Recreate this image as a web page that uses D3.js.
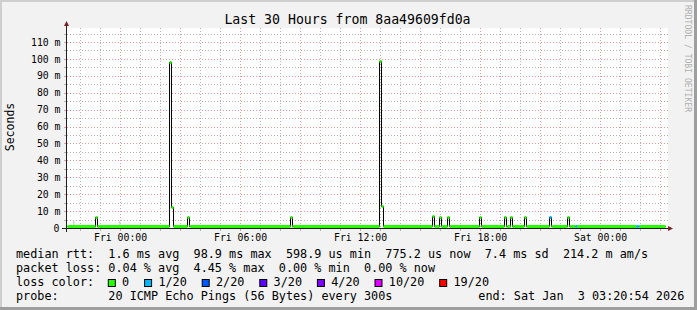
<!DOCTYPE html>
<html>
<head>
<meta charset="utf-8">
<script src="https://cdnjs.cloudflare.com/ajax/libs/d3/7.8.5/d3.min.js"></script>
<title>smokeping</title>
<style>
body { margin: 0; background: #fff; }
svg { display: block; font-family: "DejaVu Sans Mono", monospace; }
</style>
</head>
<body>
<script>

// samples that differ from the flat baseline, one 5 minute step each
var sampleTimes = [
  "2026-01-01 22:46", "2026-01-01 22:51",
  "2026-01-02 02:28", "2026-01-02 02:33",
  "2026-01-02 03:21", "2026-01-02 03:26",
  "2026-01-02 08:30", "2026-01-02 08:35",
  "2026-01-02 12:58", "2026-01-02 13:03",
  "2026-01-02 15:37", "2026-01-02 15:42",
  "2026-01-02 15:58", "2026-01-02 16:03",
  "2026-01-02 16:22", "2026-01-02 16:27",
  "2026-01-02 17:58", "2026-01-02 18:03",
  "2026-01-02 19:12", "2026-01-02 19:17",
  "2026-01-02 19:31", "2026-01-02 19:36",
  "2026-01-02 20:12", "2026-01-02 20:17",
  "2026-01-02 21:27", "2026-01-02 21:32",
  "2026-01-02 22:22", "2026-01-02 22:27",
  "2026-01-02 22:45",
  "2026-01-03 01:48", "2026-01-03 01:53"
];
// median rtt in ms
var sampleValues = [
  6.8, 1.4,
  98.4, 12.7,
  6.8, 1.4,
  6.8, 1.4,
  98.6, 13.0,
  6.9, 1.4,
  6.8, 1.4,
  6.8, 1.4,
  6.6, 1.4,
  6.6, 1.4,
  6.8, 1.4,
  6.6, 1.4,
  6.8, 1.4,
  6.8, 1.4,
  0.9,
  0.9, 0.9
];
// index into lossLabels
var sampleLoss = [
  0, 0, 0, 0, 0, 0, 0, 0, 0, 0, 0, 0, 0, 0, 0, 0,
  0, 0, 0, 0, 0, 0, 0, 0, 1, 0, 0, 0, 1, 1, 1
];
var baselineValue = 0.9;

var smokeTimes = ["2026-01-01 21:39", "2026-01-01 23:57"];
var smokeLow = [0.9, 0.9];
var smokeHigh = [4.3, 4.1];

var yTicks = [0, 10, 20, 30, 40, 50, 60, 70, 80, 90, 100, 110];

var lossLabels = ["0", "1/20", "2/20", "3/20", "4/20", "10/20", "19/20"];
var lossColors = ["#26ff00", "#00b8ff", "#0059ff", "#5e00ff", "#7e00ff", "#dd00ff", "#ff0000"];

var rttStats = ["1.6 ms avg", "98.9 ms max", "598.9 us min", "775.2 us now", "7.4 ms sd", "214.2 m am/s"];
var lossStats = ["0.04 % avg", "4.45 % max", "0.00 % min", "0.00 % now"];
var probeText = "20 ICMP Echo Pings (56 Bytes) every 300s";
var endText = "end: Sat Jan  3 03:20:54 2026";
var title = "Last 30 Hours from 8aa49609fd0a";

var W = 697, H = 310;
var L = 67, R = 667, T = 28, B = 228;
var charW = 7.1;

var parse = d3.timeParse("%Y-%m-%d %H:%M");
var start = new Date(2026, 0, 1, 21, 20, 54),
    end = new Date(2026, 0, 3, 3, 20, 54),
    dataEnd = new Date(2026, 0, 3, 3, 16);
var step = 5 * 60 * 1000;

var x = d3.scaleTime().domain([start, end]).range([L, R]);
var y = d3.scaleLinear().domain([0, 118.3]).range([B, T]);
function px(t) { return Math.round(x(t)); }
// keep runs of spaces in svg text
function keep(s) { return s.replace(/ /g, "\u00a0"); }

var svg = d3.select("body").append("svg").attr("width", W).attr("height", H);

// background + shaded frame
svg.append("rect").attr("width", W).attr("height", H).attr("fill", "#f2f2f2");
svg.append("path").attr("d", "M0,0H" + W + "V2H2V" + H + "H0Z").attr("fill", "#cfcfcf");
svg.append("path").attr("d", "M" + W + ",0V" + H + "H0V" + (H - 3) + "H" + (W - 3) + "V0Z").attr("fill", "#9e9e9e");

svg.append("rect").attr("x", L).attr("y", T).attr("width", R - L + 1).attr("height", B - T)
  .attr("fill", "#fff");

// grid
var hours = d3.timeHour.range(d3.timeHour.ceil(start), end);
var minorV = hours.filter(function(d) { return d.getHours() % 3 != 0; });
var majorV = hours.filter(function(d) { return d.getHours() % 3 == 0; });
var minorH = d3.range(5, 118, 10);
var majorH = yTicks.slice(1);
var gridCol = "#b4b4b4", mgridCol = "#e99a9a";

var grid = svg.append("g").attr("stroke-width", 1);
grid.selectAll("line.mv").data(minorV).enter().append("line").attr("class", "mv")
  .attr("x1", function(d) { return px(d) + 0.5; }).attr("x2", function(d) { return px(d) + 0.5; })
  .attr("y1", T).attr("y2", B).attr("stroke", gridCol).attr("stroke-dasharray", "1,2");
grid.selectAll("line.mh").data(minorH).enter().append("line").attr("class", "mh")
  .attr("y1", function(d) { return Math.round(y(d)) + 0.5; }).attr("y2", function(d) { return Math.round(y(d)) + 0.5; })
  .attr("x1", L).attr("x2", R + 1).attr("stroke", gridCol).attr("stroke-dasharray", "1,2");
grid.selectAll("line.Mv").data(majorV).enter().append("line").attr("class", "Mv")
  .attr("x1", function(d) { return px(d) + 0.5; }).attr("x2", function(d) { return px(d) + 0.5; })
  .attr("y1", T).attr("y2", B).attr("stroke", mgridCol).attr("stroke-dasharray", "1,2");
grid.selectAll("line.Mh").data(majorH).enter().append("line").attr("class", "Mh")
  .attr("y1", function(d) { return Math.round(y(d)) + 0.5; }).attr("y2", function(d) { return Math.round(y(d)) + 0.5; })
  .attr("x1", L).attr("x2", R + 1).attr("stroke", mgridCol).attr("stroke-dasharray", "1,2");

// small ticks on the axis side
var tk = svg.append("g");
tk.selectAll("line.tv").data(hours).enter().append("line").attr("class", "tv")
  .attr("x1", function(d) { return px(d) + 0.5; }).attr("x2", function(d) { return px(d) + 0.5; })
  .attr("y1", B).attr("y2", B + 3)
  .attr("stroke", function(d) { return d.getHours() % 3 == 0 ? mgridCol : gridCol; });
tk.selectAll("line.th").data(d3.range(5, 118, 5)).enter().append("line").attr("class", "th")
  .attr("y1", function(d) { return Math.round(y(d)) + 0.5; }).attr("y2", function(d) { return Math.round(y(d)) + 0.5; })
  .attr("x1", L - 3).attr("x2", L)
  .attr("stroke", function(d) { return d % 10 == 0 ? mgridCol : gridCol; });

// smoke
svg.selectAll("rect.smoke").data(smokeTimes).enter().append("rect").attr("class", "smoke")
  .attr("x", function(d) { return px(parse(d)); })
  .attr("width", 1.5)
  .attr("y", function(d, i) { return y(smokeHigh[i]); })
  .attr("height", function(d, i) { return y(smokeLow[i]) - y(smokeHigh[i]); })
  .attr("fill", "#d4d4d4");

// build step segments
var samples = sampleTimes.map(function(t, i) {
  var t0 = parse(t);
  return { t0: t0, t1: new Date(+t0 + step), v: sampleValues[i], loss: sampleLoss[i] };
});
var segs = [], cur = start;
samples.forEach(function(s) {
  if (s.t0 > cur) segs.push({ t0: cur, t1: s.t0, v: baselineValue, loss: 0 });
  segs.push(s);
  cur = s.t1;
});
if (cur < dataEnd) segs.push({ t0: cur, t1: dataEnd, v: baselineValue, loss: 0 });

var pts = [];
segs.forEach(function(s) { pts.push([s.t0, s.v]); pts.push([s.t1, s.v]); });

var line = d3.line()
  .x(function(d) { return px(d[0]) + 0.5; })
  .y(function(d) { return Math.round(y(d[1])) + 0.5; });

svg.append("path").datum(pts).attr("d", line)
  .attr("fill", "none").attr("stroke", "#000").attr("stroke-width", 1);

svg.selectAll("line.med").data(segs).enter().append("line").attr("class", "med")
  .attr("x1", function(d) { return px(d.t0) + 0.5; })
  .attr("x2", function(d) { return px(d.t1) + 0.5; })
  .attr("y1", function(d) { return Math.round(y(d.v)) + 0.5; })
  .attr("y2", function(d) { return Math.round(y(d.v)) + 0.5; })
  .attr("stroke", function(d) { return lossColors[d.loss]; })
  .attr("stroke-width", 3);

// axes lines + arrows
svg.append("line").attr("x1", L - 0.5).attr("x2", L - 0.5).attr("y1", B + 4).attr("y2", T - 4)
  .attr("stroke", "#1f1f1f");
svg.append("line").attr("x1", L - 5).attr("x2", R + 3).attr("y1", B + 0.5).attr("y2", B + 0.5)
  .attr("stroke", "#1f1f1f");
svg.append("path").attr("d", "M" + (L - 3) + "," + (T - 2) + "L" + (L + 2) + "," + (T - 2) + "L" + (L - 0.5) + "," + (T - 7) + "Z")
  .attr("fill", "#801f1f");
svg.append("path").attr("d", "M" + (R + 1) + "," + (B - 2) + "L" + (R + 1) + "," + (B + 3) + "L" + (R + 6) + "," + (B + 0.5) + "Z")
  .attr("fill", "#801f1f");

// axis labels
var xLabels = hours.filter(function(d) { return d.getHours() % 6 == 0; });
var xAxis = svg.append("g").attr("transform", "translate(0," + B + ")")
  .call(d3.axisBottom(x).tickValues(xLabels).tickFormat(d3.timeFormat("%a %H:%M")).tickSize(0).tickPadding(6));
xAxis.select(".domain").remove();
xAxis.selectAll("text").attr("font-family", "DejaVu Sans Mono").attr("font-size", "9.8px").attr("fill", "#000");

var yAxis = svg.append("g").attr("transform", "translate(" + L + ",0)")
  .call(d3.axisLeft(y).tickValues(yTicks).tickFormat(function(d) { return d == 0 ? "0" : d + " m"; })
    .tickSize(0).tickPadding(6.5));
yAxis.select(".domain").remove();
yAxis.selectAll("text").attr("font-family", "DejaVu Sans Mono").attr("font-size", "9.8px").attr("fill", "#000")
  .attr("dx", function(d) { return d == 0 ? -1.2 : 0; });

svg.append("text").attr("transform", "translate(14,127) rotate(-90)")
  .attr("text-anchor", "middle").attr("font-size", "11.5px").text("Seconds");

svg.append("text").attr("x", 347.5).attr("y", 23.5).attr("text-anchor", "middle")
  .attr("font-size", "13.2px").text(title);

svg.append("text").attr("transform", "translate(685,5) rotate(90)")
  .attr("font-size", "8.5px").attr("fill", "#b0b0b0")
  .attr("textLength", 107).attr("lengthAdjust", "spacingAndGlyphs")
  .text("RRDTOOL / TOBI OETIKER");

// legend
var leg = svg.append("g").attr("font-size", "11.8px");
var lx = 16, ly = 258.3, lh = 14;
leg.append("text").attr("x", lx).attr("y", ly).text(keep("median rtt:  " + rttStats.join("  ")));
leg.append("text").attr("x", lx).attr("y", ly + lh).text(keep("packet loss: " + lossStats.join("  ")));
leg.append("text").attr("x", lx).attr("y", ly + 2 * lh).text(keep("loss color:"));
var bx = lx + 13 * charW - 0.5;
lossLabels.forEach(function(lab, i) {
  leg.append("rect").attr("x", bx + 0.5).attr("y", ly + 2 * lh - 6.8).attr("width", 7).attr("height", 7)
    .attr("fill", lossColors[i]).attr("stroke", "#000");
  leg.append("text").attr("x", bx + 14.3).attr("y", ly + 2 * lh).text(lab);
  bx = bx + 14.3 + lab.length * charW + 14.9;
});
leg.append("text").attr("x", lx).attr("y", ly + 3 * lh).text(keep("probe:       " + probeText));
leg.append("text").attr("x", 478.3).attr("y", ly + 3 * lh).text(keep(endText));

</script>
</body>
</html>
